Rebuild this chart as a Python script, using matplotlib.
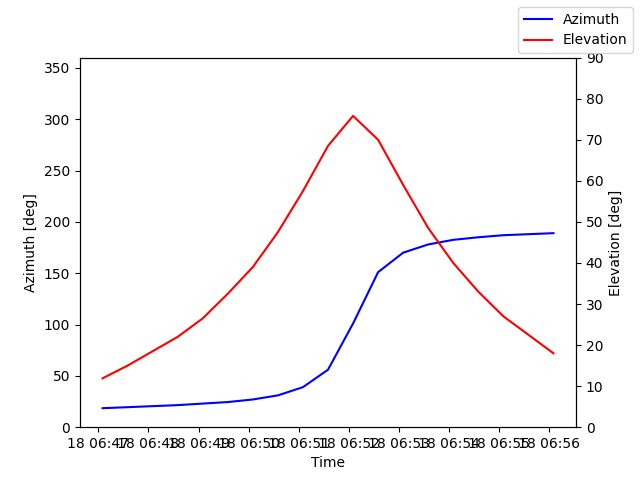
import numpy as np
import pandas as pd
import matplotlib
matplotlib.use('Agg')
import matplotlib.pyplot as plt
import matplotlib.dates as mdates

times = pd.date_range('2024-01-18 06:47:05', periods=19, freq='30s')
azimuth = [18.5, 19.5, 20.5, 21.5, 23, 24.5, 27, 31, 39, 56, 101, 151, 170, 178, 182.5, 185, 187, 188, 189]
elevation = [11.9, 15, 18.5, 22, 26.5, 32.5, 39, 47.5, 57.5, 68.5, 75.8, 70, 59, 48.5, 40, 33, 27, 22.5, 18]

fig, ax1 = plt.subplots(figsize=(6.4, 4.8), dpi=100)
ax2 = ax1.twinx()
ax1.plot(times, azimuth, 'b', label='Azimuth')
ax2.plot(times, elevation, 'r', label='Elevation')
ax1.set_ylim(0, 360)
ax2.set_ylim(0, 90)
ax1.set_xlabel('Time')
ax1.set_ylabel('Azimuth [deg]')
ax2.set_ylabel('Elevation [deg]')
ax1.xaxis.set_major_locator(mdates.MinuteLocator())
ax1.xaxis.set_major_formatter(mdates.DateFormatter('%d %H:%M'))
fig.legend()
fig.savefig('out.png')
